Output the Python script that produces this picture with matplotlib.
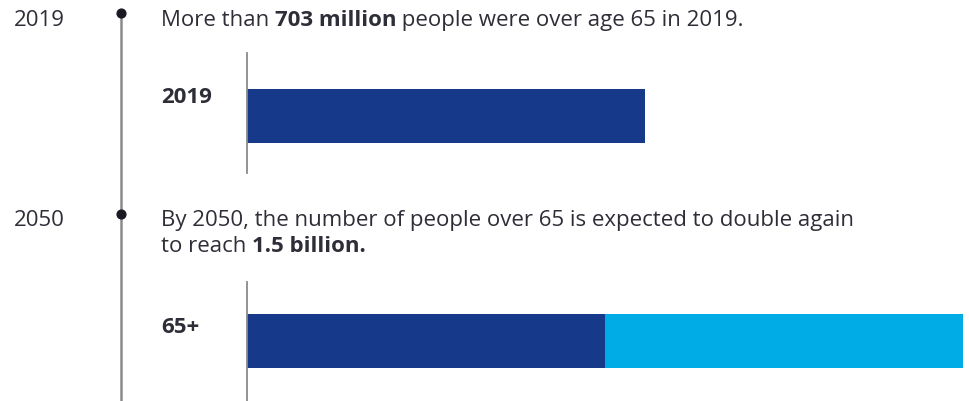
"""Timeline of the population aged 65+ (2019 vs 2050)."""

import matplotlib.pyplot as plt

# ---- data -----------------------------------------------------------------
years = ["2019", "2050"]
bar_labels = ["2019", "65+"]
pop_2019 = [703]            # millions
pop_2050 = [750, 750]       # millions: current level, projected addition
captions = [
    [[("More than ", "normal"), ("703 million", "bold"),
      (" people were over age 65 in 2019.", "normal")]],
    [[("By 2050, the number of people over 65 is expected to double again", "normal")],
     [("to reach ", "normal"), ("1.5 billion.", "bold")]],
]

# ---- style ----------------------------------------------------------------
W, H = 969, 401
TEXT = "#2e2e38"
NAVY = "#16398a"
CYAN = "#00ace6"
GRAY = "#8a8a8a"
plt.rcParams["font.family"] = ["Open Sans", "DejaVu Sans"]
FS = 16

fig = plt.figure(figsize=(W / 100, H / 100), dpi=100)
bg = fig.add_axes([0, 0, 1, 1])
bg.set_xlim(0, W)
bg.set_ylim(H, 0)
bg.axis("off")

# timeline
event_y = [13, 214]
text_base = [26, 226]
bg.plot([121, 121], [event_y[0], H], color=GRAY, lw=1.8, zorder=1)
bg.scatter([121] * len(years), event_y, s=40, color="#1a1a24", zorder=2)


def mixed_line(x, y, segments):
    prev = None
    for txt, weight in segments:
        if prev is None:
            prev = bg.text(x, y, txt, fontsize=FS, fontweight=weight,
                           color=TEXT, va="baseline", ha="left")
        else:
            prev = bg.annotate(txt, xy=(1, 0), xycoords=prev, fontsize=FS,
                               fontweight=weight, color=TEXT,
                               va="bottom", ha="left")
    return prev


for yr, base, cap in zip(years, text_base, captions):
    bg.text(14, base, yr, fontsize=FS, color=TEXT, va="baseline")
    for i, line in enumerate(cap):
        mixed_line(161, base + i * 26, line)


def bar_panel(top, bottom, xmax):
    ax = fig.add_axes([247 / W, 1 - bottom / H, (963 - 247) / W, (bottom - top) / H])
    ax.set_xlim(0, xmax)
    ax.set_ylim(bottom, top)
    for s in ("top", "right", "bottom"):
        ax.spines[s].set_visible(False)
    ax.spines["left"].set_color(GRAY)
    ax.spines["left"].set_linewidth(1.3)
    ax.set_xticks([])
    ax.set_yticks([])
    ax.patch.set_alpha(0)
    return ax


ax1 = bar_panel(53, 173, 703 * 716 / 398)
ax1.barh(116, pop_2019[0], height=54, color=NAVY)
bg.text(161, 103, bar_labels[0], fontsize=FS, fontweight="bold", color=TEXT, va="baseline")

ax2 = bar_panel(282, H, sum(pop_2050))
ax2.barh(341, pop_2050[0], height=54, color=NAVY)
ax2.barh(341, pop_2050[1], height=54, left=pop_2050[0], color=CYAN)
bg.text(161, 333, bar_labels[1], fontsize=FS, fontweight="bold", color=TEXT, va="baseline")

fig.savefig("out.png", dpi=100)
